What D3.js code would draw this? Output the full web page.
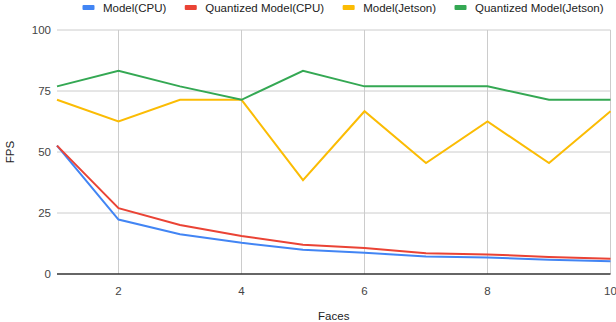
<!DOCTYPE html>
<html>
<head>
<meta charset="utf-8">
<script src="https://cdn.jsdelivr.net/npm/d3@7"></script>
<style>
  body { margin: 0; background: #fff; }
  text { font-family: Arial, "Liberation Sans", sans-serif; }
</style>
</head>
<body>
<div id="chart"></div>
<script>
const faces = [1, 2, 3, 4, 5, 6, 7, 8, 9, 10];
const modelCPU = [52.6, 22.3, 16.3, 12.8, 9.9, 8.7, 7.2, 6.8, 5.8, 5.2];
const quantCPU = [52.6, 27.0, 20.1, 15.6, 12.0, 10.7, 8.5, 8.0, 7.0, 6.2];
const modelJetson = [71.4, 62.5, 71.4, 71.4, 38.5, 66.7, 45.5, 62.5, 45.5, 66.7];
const quantJetson = [76.9, 83.3, 76.9, 71.4, 83.3, 76.9, 76.9, 76.9, 71.4, 71.4];
const seriesNames = ['Model(CPU)', 'Quantized Model(CPU)', 'Model(Jetson)', 'Quantized Model(Jetson)'];
const seriesColors = ['#4285F4', '#EA4335', '#FBBC04', '#34A853'];
const xTicks = [2, 4, 6, 8, 10];
const yTicks = [0, 25, 50, 75, 100];

const W = 616, H = 322;
const margin = {left: 57, right: 5.5, top: 30, bottom: 48};

const svg = d3.select('#chart').append('svg').attr('width', W).attr('height', H);

const x = d3.scaleLinear().domain([1, 10]).range([margin.left, W - margin.right]);
const y = d3.scaleLinear().domain([0, 100]).range([H - margin.bottom, margin.top]);

// gridlines
svg.append('g').selectAll('line').data(yTicks.filter(d => d > 0)).enter().append('line')
  .attr('x1', x(1)).attr('x2', x(10))
  .attr('y1', d => y(d)).attr('y2', d => y(d))
  .attr('stroke', '#cccccc').attr('stroke-width', 1);
svg.append('g').selectAll('line').data(xTicks).enter().append('line')
  .attr('x1', d => x(d)).attr('x2', d => x(d))
  .attr('y1', y(0)).attr('y2', y(100))
  .attr('stroke', '#cccccc').attr('stroke-width', 1);

// y labels
svg.append('g').selectAll('text').data(yTicks).enter().append('text')
  .attr('x', margin.left - 6).attr('y', d => y(d)).attr('dy', '0.35em')
  .attr('text-anchor', 'end').attr('font-size', 11.5).attr('fill', '#444')
  .text(d => d);

// x labels
svg.append('g').selectAll('text').data(xTicks).enter().append('text')
  .attr('x', d => x(d)).attr('y', y(0) + 17).attr('dy', '0.35em')
  .attr('text-anchor', 'middle').attr('font-size', 11.5).attr('fill', '#444')
  .text(d => d);

// lines
const allSeries = [modelCPU, quantCPU, modelJetson, quantJetson];
const line = d3.line().x((d, i) => x(faces[i])).y(d => y(d));
// draw Jetson first so CPU ones are on top of nothing in particular
allSeries.forEach(function(vals, i) {
  svg.append('path').datum(vals)
    .attr('d', line)
    .attr('fill', 'none')
    .attr('stroke', seriesColors[i])
    .attr('stroke-width', 2)
    .attr('stroke-linejoin', 'miter');
});

// baseline
svg.append('line')
  .attr('x1', x(1)).attr('x2', x(10))
  .attr('y1', y(0)).attr('y2', y(0))
  .attr('stroke', '#333').attr('stroke-width', 1.5);

// axis titles
svg.append('text').attr('x', (x(1) + x(10)) / 2).attr('y', 316).attr('dy', '0.35em')
  .attr('text-anchor', 'middle').attr('font-size', 11.5).attr('fill', '#222').text('Faces');
svg.append('text').attr('transform', 'translate(10,' + y(50) + ') rotate(-90)').attr('dy', '0.35em')
  .attr('text-anchor', 'middle').attr('font-size', 11.5).attr('fill', '#222').text('FPS');

// legend
const legend = svg.append('g');
let lx = 82.5;
seriesNames.forEach(function(name, i) {
  legend.append('rect').attr('x', lx).attr('y', 5).attr('width', 12).attr('height', 5)
    .attr('rx', 1).attr('fill', seriesColors[i]);
  const t = legend.append('text').attr('x', lx + 20.5).attr('y', 7.5).attr('dy', '0.35em')
    .attr('font-size', 11.5).attr('fill', '#222').text(name);
  lx += 20.5 + t.node().getComputedTextLength() + 18.5;
});
</script>
</body>
</html>
